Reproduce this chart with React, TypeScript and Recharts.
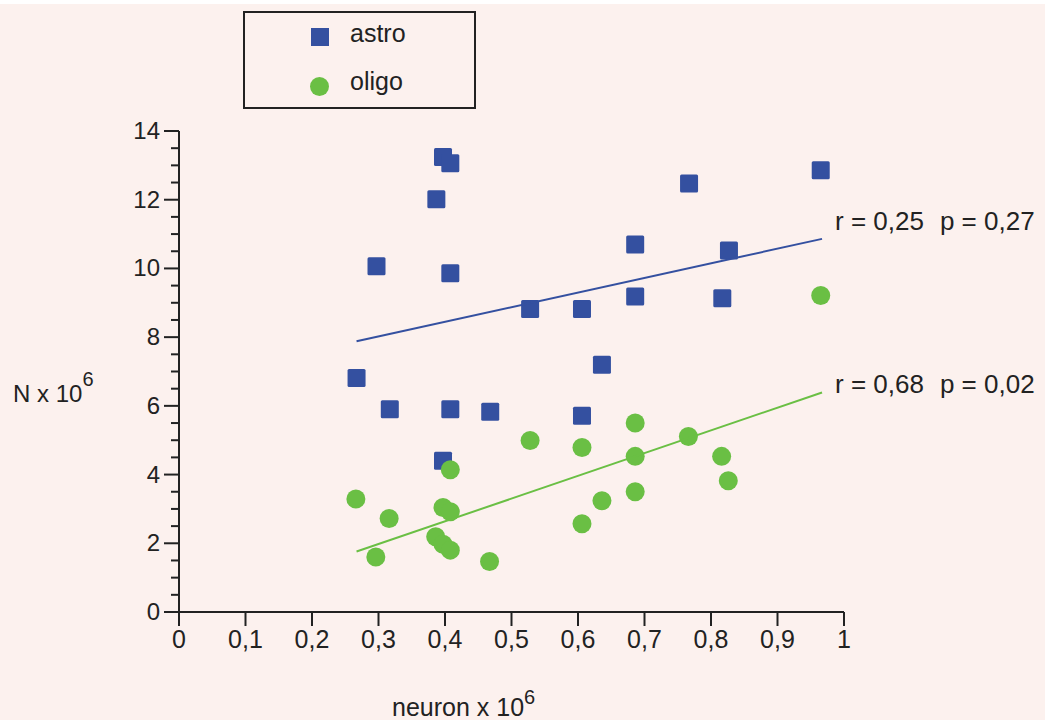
import { ScatterChart, Scatter, XAxis, YAxis, Legend, Customized } from "recharts";

// astro cells vs neurons (x 10^6)
const astroNeuron = [0.397, 0.408, 0.387, 0.297, 0.408, 0.528, 0.267, 0.317, 0.408, 0.468, 0.397, 0.606, 0.686, 0.686, 0.767, 0.827, 0.817, 0.965, 0.636, 0.606];
const astroCount = [13.24, 13.06, 12.01, 10.06, 9.86, 8.82, 6.81, 5.9, 5.9, 5.83, 4.4, 8.82, 10.7, 9.18, 12.47, 10.52, 9.13, 12.86, 7.2, 5.71];

// oligo cells vs neurons (x 10^6)
const oligoNeuron = [0.266, 0.316, 0.296, 0.397, 0.408, 0.386, 0.397, 0.408, 0.467, 0.408, 0.528, 0.606, 0.606, 0.636, 0.686, 0.686, 0.686, 0.766, 0.816, 0.826, 0.965];
const oligoCount = [3.29, 2.72, 1.6, 3.04, 2.92, 2.19, 1.97, 1.8, 1.47, 4.14, 4.99, 4.79, 2.57, 3.24, 5.5, 4.53, 3.5, 5.11, 4.53, 3.82, 9.21];

// regression lines
const fitX = [0.267, 0.967];
const astroFitY = [7.88, 10.86];
const oligoFitY = [1.76, 6.39];

const xTicks = [0, 0.1, 0.2, 0.3, 0.4, 0.5, 0.6, 0.7, 0.8, 0.9, 1];
const yTicks = Array.from({ length: 29 }, (_, i) => i * 0.5);

const BLUE = "#3450a0";
const GREEN = "#6abf44";
const INK = "#222";
const FONT = "'Liberation Sans', Arial, sans-serif";

const zip = (xs: number[], ys: number[]) => xs.map((x, i) => ({ x, y: ys[i] }));
const astro = zip(astroNeuron, astroCount);
const oligo = zip(oligoNeuron, oligoCount);
const astroFit = zip(fitX, astroFitY);
const oligoFit = zip(fitX, oligoFitY);

const Square = (p: any) => <rect x={p.cx - 9} y={p.cy - 9} width={18} height={18} rx={1.5} fill={BLUE} />;
const Dot = (p: any) => <circle cx={p.cx} cy={p.cy} r={9.5} fill={GREEN} />;

const YTick = (p: any) => {
  const v = p.payload.value;
  const major = v % 2 === 0;
  return (
    <g>
      <line x1={p.x - (major ? 15 : 8)} x2={p.x} y1={p.y} y2={p.y} stroke={INK} strokeWidth={2} />
      {major && (
        <text x={p.x - 19} y={p.y + 8} textAnchor="end" fontSize={24} fill={INK} fontFamily={FONT}>
          {v}
        </text>
      )}
    </g>
  );
};

const LegendBox = () => (
  <div style={{ width: 229, height: 94, border: "2px solid #222", position: "relative", fontFamily: FONT, fontSize: 25, color: INK }}>
    <div style={{ position: "absolute", left: 66, top: 15, width: 18, height: 18, background: BLUE }} />
    <div style={{ position: "absolute", left: 105, top: 6 }}>astro</div>
    <div style={{ position: "absolute", left: 65, top: 64, width: 19, height: 19, borderRadius: "50%", background: GREEN }} />
    <div style={{ position: "absolute", left: 105, top: 54 }}>oligo</div>
  </div>
);

const Extras = () => (
  <g fontFamily={FONT} fill={INK}>
    <text x={13} y={402} fontSize={24}>
      N x 10<tspan fontSize={20} dy={-16}>6</tspan>
    </text>
    <text x={392} y={716} fontSize={25}>
      neuron x 10<tspan fontSize={20} dy={-12}>6</tspan>
    </text>
    <text x={835} y={230} fontSize={26}>
      r = 0,25<tspan dx={16}>p = 0,27</tspan>
    </text>
    <text x={835} y={393} fontSize={26}>
      r = 0,68<tspan dx={16}>p = 0,02</tspan>
    </text>
  </g>
);

export default function App() {
  return (
    <div style={{ position: "absolute", left: 0, top: 0, width: 1054, height: 720, background: "#fff" }}>
      <div style={{ position: "absolute", left: 0, top: 4, width: 1045, height: 716, background: "#fcf1ee" }} />
      <div style={{ position: "absolute", left: 0, top: 0 }}>
        <ScatterChart width={1054} height={720} margin={{ top: 131, right: 210, bottom: 0, left: 0 }}>
          <XAxis
            type="number"
            dataKey="x"
            domain={[0, 1]}
            ticks={xTicks}
            interval={0}
            height={108}
            tickSize={14}
            tickMargin={4}
            tickFormatter={(v: number) => String(v).replace(".", ",")}
            axisLine={{ stroke: INK, strokeWidth: 2 }}
            tickLine={{ stroke: INK, strokeWidth: 2 }}
            tick={{ fontSize: 25, fill: INK, fontFamily: FONT }}
          />
          <YAxis
            type="number"
            dataKey="y"
            domain={[0, 14]}
            ticks={yTicks}
            interval={0}
            width={179}
            tickSize={0}
            tickMargin={0}
            tickLine={false}
            axisLine={{ stroke: INK, strokeWidth: 2 }}
            tick={<YTick />}
          />
          <Legend
            layout="vertical"
            align="center"
            verticalAlign="middle"
            content={<LegendBox />}
            wrapperStyle={{ position: "absolute", left: 243, top: 11, width: "auto" }}
          />
          <Scatter name="astro" data={astro} shape={<Square />} isAnimationActive={false} />
          <Scatter name="oligo" data={oligo} shape={<Dot />} isAnimationActive={false} />
          <Scatter data={astroFit} line={{ stroke: BLUE, strokeWidth: 2 }} shape={() => <g />} legendType="none" isAnimationActive={false} />
          <Scatter data={oligoFit} line={{ stroke: GREEN, strokeWidth: 2 }} shape={() => <g />} legendType="none" isAnimationActive={false} />
          <Customized component={<Extras />} />
        </ScatterChart>
      </div>
    </div>
  );
}
